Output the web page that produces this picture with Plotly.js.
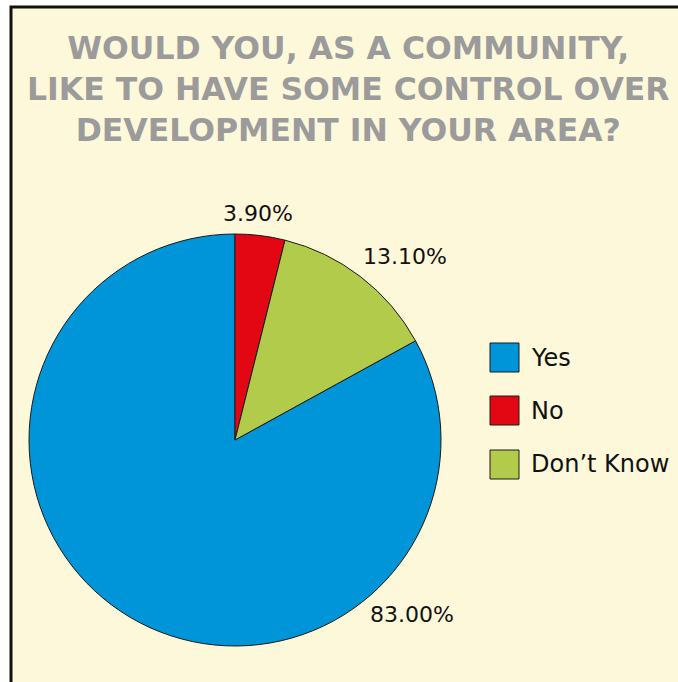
<!DOCTYPE html>
<html>
<head>
<meta charset="utf-8">
<script src="https://cdn.plot.ly/plotly-3.0.1.min.js"></script>
<style>html,body{margin:0;padding:0;background:#fff;}#chart{width:678px;height:682px;}</style>
</head>
<body>
<div id="chart"></div>
<script>
const categories = ["Yes", "No", "Don\u2019t Know"];
const values = [83.0, 3.9, 13.1];
const valueLabels = ["83.00%", "3.90%", "13.10%"];
const colors = ["#0095D8", "#E30613", "#B3CB4B"];
const titleText = "WOULD YOU, AS A COMMUNITY,<br>LIKE TO HAVE SOME CONTROL OVER<br>DEVELOPMENT IN YOUR AREA?";

const W = 678, H = 682;
const px = x => x / W;
const py = y => 1 - y / H;
const FONT = "DejaVu Sans, Verdana, sans-serif";

const trace = {
  type: "pie",
  labels: categories,
  values: values,
  textinfo: "none",
  sort: false,
  direction: "clockwise",
  rotation: 360 * (values[1] + values[2]) / 100,
  marker: {colors: colors, line: {color: "#1a1a1a", width: 1}},
  domain: {x: [px(29), px(441)], y: [py(646), py(234)]},
  showlegend: false,
  hoverinfo: "label+percent"
};

const shapes = [{
  type: "rect", xref: "paper", yref: "paper", layer: "below",
  x0: px(11), x1: 1.1, y0: -0.1, y1: py(7),
  fillcolor: "#FEF8DA", line: {color: "#111", width: 3}
}];
const annotations = [{
  xref: "paper", yref: "paper", x: px(348), y: py(89),
  xanchor: "center", yanchor: "middle", showarrow: false,
  text: titleText, align: "center",
  font: {family: FONT, size: 31.5, color: "#9B9B9B", weight: "bold"}
}];
// percentage label anchor positions (label text comes from valueLabels)
const labelPos = [[412, 614], [258, 214], [405, 256]];
valueLabels.forEach((t, i) => {
  annotations.push({
    xref: "paper", yref: "paper", x: px(labelPos[i][0]), y: py(labelPos[i][1]),
    xanchor: "center", yanchor: "middle", showarrow: false, text: t,
    font: {family: FONT, size: 22, color: "#111"}
  });
});
const legendTop = [343, 396, 450];
categories.forEach((c, i) => {
  shapes.push({
    type: "rect", xref: "paper", yref: "paper",
    x0: px(490), x1: px(519), y0: py(legendTop[i] + 29), y1: py(legendTop[i]),
    fillcolor: colors[i], line: {color: "#1a1a1a", width: 1}
  });
  annotations.push({
    xref: "paper", yref: "paper", x: px(529), y: py(legendTop[i] + 14.5),
    xanchor: "left", yanchor: "middle", showarrow: false, text: c,
    font: {family: FONT, size: 24, color: "#111"}
  });
});

const layout = {
  width: W, height: H,
  margin: {l: 0, r: 0, t: 0, b: 0},
  paper_bgcolor: "#ffffff",
  showlegend: false,
  shapes: shapes,
  annotations: annotations
};

Plotly.newPlot("chart", [trace], layout, {displayModeBar: false, staticPlot: true});
</script>
</body>
</html>
